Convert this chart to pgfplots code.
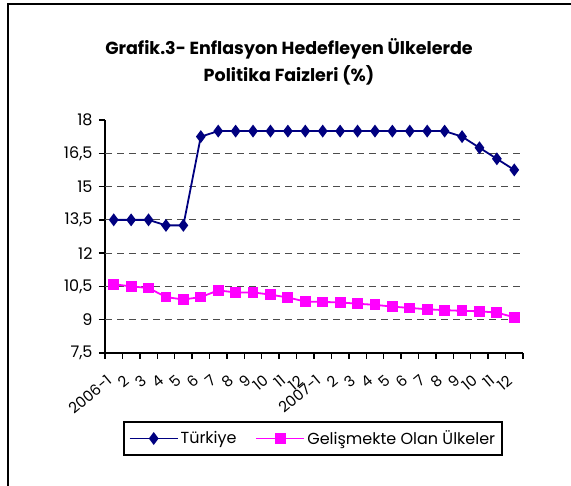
\documentclass[border=0pt]{standalone}
\usepackage{pgfplots}
\pgfplotsset{compat=1.18}
\usepackage{fontspec}
\setmainfont{Poppins}
\definecolor{navyline}{RGB}{0,0,128}
\definecolor{magline}{RGB}{255,0,255}
\begin{document}
\begin{tikzpicture}[x=1pt,y=1pt]
\useasboundingbox (0,0) rectangle (571,486);
\fill[white] (0,0) rectangle (571,486);
\draw[line width=1.8pt] (8,0) -- (8,482) -- (571,482);
\node[font=\fontsize{17.5}{27}\selectfont\bfseries, align=center] at (289,424.5) {Grafik.3- Enflasyon Hedefleyen Ülkelerde\\Politika Faizleri (\%)};
\begin{axis}[
  scale only axis,
  width=418pt, height=233pt,
  at={(105pt,133pt)}, anchor=south west,
  xmin=-0.5, xmax=23.5,
  ymin=7.5, ymax=18,
  axis x line*=bottom, axis y line*=left,
  axis line style={-, line width=1.6pt, black},
  tick align=outside,
  ytick={7.5,9,10.5,12,13.5,15,16.5,18},
  extra y ticks={9,10.5,12,13.5,15,16.5},
  extra y tick labels={},
  extra y tick style={grid=major},
  grid style={dashed, dash pattern=on 7pt off 5pt, black!70, line width=0.9pt},
  major tick style={black, line width=1.4pt},
  minor tick style={black, line width=1.4pt},
  major tick length=6pt,
  minor tick length=6pt,
  xtick={0,...,23},
  xticklabels={2006-1,2,3,4,5,6,7,8,9,10,11,12,2007-1,2,3,4,5,6,7,8,9,10,11,12},
  major x tick style={draw=none},
  minor xtick={-0.5,0.5,...,23.5},
  x tick label style={xshift=-2pt, yshift=-17pt, rotate=40, anchor=east, font=\fontsize{15}{16}\selectfont},
  y tick label style={font=\fontsize{16}{17}\selectfont, xshift=-3pt},
  /pgf/number format/assume math mode=true,
  /pgf/number format/use comma,
  /pgf/number format/fixed,
  legend columns=2,
  legend style={at={(0.4976,-0.367)}, anchor=center, draw=black, line width=1.6pt,
    font=\fontsize{16}{17}\selectfont, inner xsep=5pt, inner ysep=6.5pt,
    /tikz/every even column/.append style={column sep=17pt}},
  legend image code/.code={\draw[mark repeat=2,mark phase=2] plot coordinates {(0pt,0pt)(24pt,0pt)(48pt,0pt)};},
]
\addplot[navyline, line width=1.8pt, mark=diamond*, mark size=5pt, mark options={solid, fill=navyline}] coordinates {
(0,13.5)(1,13.5)(2,13.5)(3,13.25)(4,13.25)(5,17.25)(6,17.5)(7,17.5)(8,17.5)(9,17.5)(10,17.5)(11,17.5)
(12,17.5)(13,17.5)(14,17.5)(15,17.5)(16,17.5)(17,17.5)(18,17.5)(19,17.5)(20,17.25)(21,16.75)(22,16.25)(23,15.75)};
\addlegendentry{Türkiye}
\addplot[magline, line width=1.8pt, mark=square*, mark size=4.5pt, mark options={solid, fill=magline}] coordinates {
(0,10.6)(1,10.5)(2,10.43)(3,10.02)(4,9.91)(5,10.02)(6,10.32)(7,10.23)(8,10.23)(9,10.13)(10,10.0)(11,9.82)
(12,9.8)(13,9.78)(14,9.72)(15,9.67)(16,9.59)(17,9.53)(18,9.47)(19,9.43)(20,9.4)(21,9.38)(22,9.32)(23,9.11)};
\addlegendentry{Gelişmekte Olan Ülkeler}
\end{axis}
\end{tikzpicture}
\end{document}
